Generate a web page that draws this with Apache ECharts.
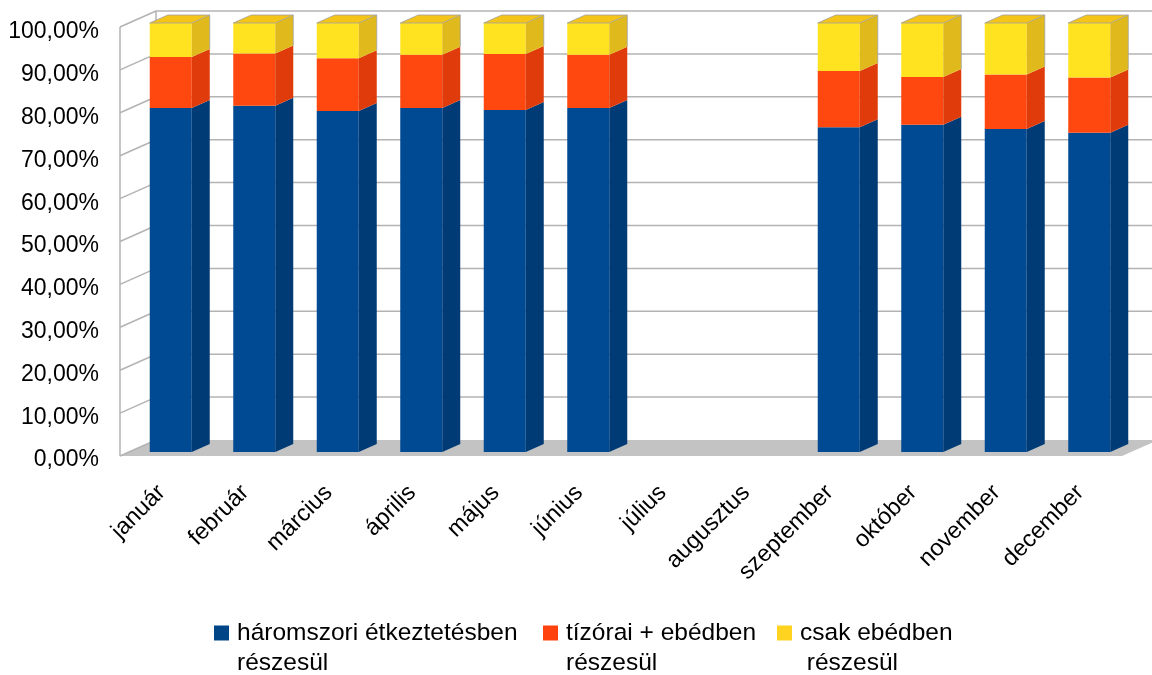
<!DOCTYPE html>
<html>
<head>
<meta charset="utf-8">
<script src="https://cdn.jsdelivr.net/npm/echarts@6/dist/echarts.min.js"></script>
<style>
  html, body { margin: 0; padding: 0; background: #fff; }
  #chart { width: 1152px; height: 675px; }
</style>
</head>
<body>
<div id="chart"></div>
<script>
var months = ['január', 'február', 'március', 'április', 'május', 'június',
    'július', 'augusztus', 'szeptember', 'október', 'november', 'december'];
var haromszori = [80.2, 80.7, 79.5, 80.2, 79.7, 80.2, 0, 0, 75.7, 76.3, 75.3, 74.4];
var tizorai = [11.9, 12.2, 12.3, 12.4, 13.1, 12.4, 0, 0, 13.1, 11.1, 12.7, 12.9];
var csakEbed = [7.9, 7.1, 8.2, 7.4, 7.2, 7.4, 0, 0, 11.2, 12.6, 12.0, 12.7];
var yTicks = [0, 10, 20, 30, 40, 50, 60, 70, 80, 90, 100];

var names = ['háromszori étkeztetésben\nrészesül', 'tízórai + ebédben\nrészesül', 'csak ebédben\n részesül'];
var legendColors = ['#004586', '#ff420e', '#ffd320'];
// front / side / top colours of the 3d blocks
var faces = [
    ['#004a93', '#003b75', '#00417f'],
    ['#ff4810', '#df3b0b', '#f0400e'],
    ['#ffe320', '#e0ba1d', '#f4c418']
];

// depth offsets (grid 0 = front face of bars)
var FRONT = [-9, 4], BACK = [27, -12], DEPTH = [18, -8];

function stackData(lists) {
    var base = months.map(function () { return 0; });
    return lists.map(function (vals) {
        return vals.map(function (v, i) {
            var lo = base[i];
            base[i] += v;
            return [i, lo, base[i]];
        });
    });
}
var stacked = stackData([haromszori, tizorai, csakEbed]);

function wallRender(params, api) {
    var cs = params.coordSys;
    var yb = api.coord([0, 0])[1];
    var yt = api.coord([0, 100])[1];
    var lineStyle = { stroke: '#b3b3b3', lineWidth: 1.5 };
    var ch = [];
    ch.push({
        type: 'polygon',
        shape: { points: [
            [cs.x + FRONT[0], yb + FRONT[1]],
            [cs.x + cs.width + FRONT[0], yb + FRONT[1]],
            [cs.x + cs.width + BACK[0], yb + BACK[1]],
            [cs.x + BACK[0], yb + BACK[1]]
        ] },
        style: { fill: '#c3c3c3' }
    });
    yTicks.forEach(function (v) {
        var y = api.coord([0, v])[1];
        ch.push({ type: 'line', shape: { x1: cs.x + FRONT[0], y1: y + FRONT[1], x2: cs.x + BACK[0], y2: y + BACK[1] }, style: lineStyle });
        if (v > 0) {
            ch.push({ type: 'line', shape: { x1: cs.x + BACK[0], y1: y + BACK[1], x2: cs.x + cs.width + BACK[0] + 40, y2: y + BACK[1] }, style: lineStyle });
        }
    });
    ch.push({ type: 'line', shape: { x1: cs.x + FRONT[0], y1: yt + FRONT[1], x2: cs.x + FRONT[0], y2: yb + FRONT[1] }, style: lineStyle });
    ch.push({ type: 'line', shape: { x1: cs.x + BACK[0], y1: yt + BACK[1], x2: cs.x + BACK[0], y2: yb + BACK[1] }, style: lineStyle });
    return { type: 'group', children: ch };
}

function barRender(idx) {
    return function (params, api) {
        var lo = api.value(1), hi = api.value(2);
        if (hi - lo <= 0) return;
        var w = api.size([1, 0])[0] * 0.503;
        var pLo = api.coord([api.value(0), lo]);
        var pHi = api.coord([api.value(0), hi]);
        var x0 = pLo[0] - w / 2, x1 = pLo[0] + w / 2;
        var yb = pLo[1], yt = pHi[1];
        var c = faces[idx];
        var edge = 'rgba(160,160,160,0.8)';
        var ch = [
            { type: 'rect', shape: { x: x0, y: yt, width: w, height: yb - yt }, style: { fill: c[0] } },
            { type: 'polygon', shape: { points: [[x1, yb], [x1 + DEPTH[0], yb + DEPTH[1]], [x1 + DEPTH[0], yt + DEPTH[1]], [x1, yt]] }, style: { fill: c[1] } }
        ];
        if (idx === 2) {
            ch.push({ type: 'polygon', shape: { points: [[x0, yt], [x0 + DEPTH[0], yt + DEPTH[1]], [x1 + DEPTH[0], yt + DEPTH[1]], [x1, yt]] }, style: { fill: c[2], stroke: edge, lineWidth: 1 } });
            ch.push({ type: 'line', shape: { x1: x1 + DEPTH[0], y1: yt + DEPTH[1], x2: x1 + DEPTH[0], y2: yb + DEPTH[1] }, style: { stroke: edge, lineWidth: 1 } });
        }
        return { type: 'group', children: ch };
    };
}

var chart = echarts.init(document.getElementById('chart'));

var series = [{
    type: 'custom',
    name: 'walls',
    silent: true,
    renderItem: wallRender,
    data: [[0, 0, 0]],
    z: 1
}];
names.forEach(function (n, k) {
    series.push({
        type: 'custom',
        name: n,
        color: legendColors[k],
        renderItem: barRender(k),
        encode: { x: 0, y: [1, 2] },
        data: stacked[k],
        z: 2 + k
    });
});

var legendLeft = [209, 538, 772];
var fontFam = '"Liberation Sans", Arial, sans-serif';
var pctFmt = function (v) { return v.toFixed(2).replace('.', ',') + '%'; };
// square sitting at the top of a taller (empty) box so it lines up with the first text line
var legendIcon = 'path://M0,0H15V15H0Z M0,45H0.01V45H0Z';

chart.setOption({
    animation: false,
    textStyle: { fontFamily: fontFam },
    grid: [
        // plane of the bar fronts
        { left: 129, top: 23, width: 1002, height: 429 },
        // front plane of the box, carries the labels
        { left: 120, top: 32, width: 1002, height: 428 }
    ],
    xAxis: [{
        type: 'category',
        gridIndex: 0,
        data: months,
        show: false
    }, {
        type: 'category',
        gridIndex: 1,
        data: months,
        axisLine: { show: false },
        axisTick: { show: false },
        axisLabel: { rotate: 45, fontSize: 23.5, color: '#000', margin: 29, fontFamily: fontFam, interval: 0 }
    }],
    yAxis: [{
        type: 'value',
        gridIndex: 0,
        min: 0,
        max: 100,
        interval: 10,
        show: false
    }, {
        type: 'value',
        gridIndex: 1,
        min: 0,
        max: 100,
        interval: 10,
        splitLine: { show: false },
        axisLine: { show: false },
        axisTick: { show: false },
        axisLabel: { fontSize: 23, color: '#000', margin: 21, fontFamily: fontFam, formatter: pctFmt }
    }],
    legend: names.map(function (n, k) {
        return {
            data: [n],
            left: legendLeft[k],
            top: 613,
            icon: legendIcon,
            itemWidth: 15,
            itemHeight: 45,
            selectedMode: false,
            textStyle: { fontSize: 24.5, color: '#000', fontFamily: fontFam, lineHeight: 30, padding: [0, 0, 0, 3] }
        };
    }),
    series: series
});
</script>
</body>
</html>
